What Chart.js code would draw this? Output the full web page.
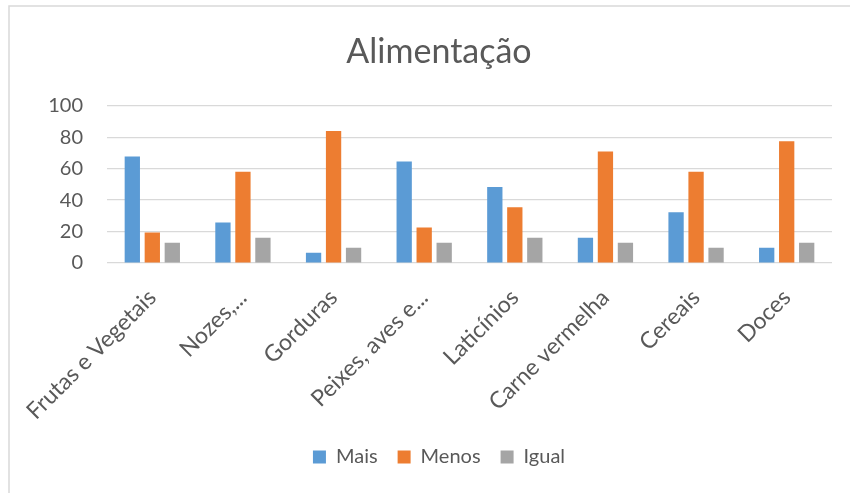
<!DOCTYPE html>
<html>
<head>
<meta charset="utf-8">
<script src="https://cdn.jsdelivr.net/npm/chart.js@4"></script>
<style>
  html, body { margin: 0; padding: 0; background: #fff; }
  #wrap { position: relative; width: 850px; height: 493px; }
</style>
</head>
<body>
<div id="wrap"><canvas id="c" width="850" height="493"></canvas></div>
<script>
const title = "Alimentação";
const categories = ["Frutas e Vegetais", "Nozes,...", "Gorduras", "Peixes, aves e...", "Laticínios", "Carne vermelha", "Cereais", "Doces"];
const seriesNames = ["Mais", "Menos", "Igual"];
const mais  = [67.7, 25.8, 6.5, 64.5, 48.4, 16.1, 32.3, 9.7];
const menos = [19.4, 58.1, 83.9, 22.6, 35.5, 71.0, 58.1, 77.4];
const igual = [12.9, 16.1, 9.7, 12.9, 16.1, 12.9, 9.7, 12.9];
const yTicks = [0, 20, 40, 60, 80, 100];
const colors = ["#5B9BD5", "#ED7D31", "#A5A5A5"];

const FONT = "Lato, 'Liberation Sans', sans-serif";
const TXT = "#595959";

const frame = {
  id: 'frame',
  beforeDraw(chart) {
    const ctx = chart.ctx;
    ctx.save();
    ctx.fillStyle = '#fff';
    ctx.fillRect(0, 0, chart.width, chart.height);
    ctx.strokeStyle = '#D9D9D9';
    ctx.lineWidth = 1.5;
    ctx.beginPath();
    ctx.moveTo(9, chart.height);
    ctx.lineTo(9, 6);
    ctx.lineTo(chart.width, 6);
    ctx.stroke();
    ctx.restore();
  }
};

new Chart(document.getElementById('c'), {
  type: 'bar',
  data: {
    labels: categories,
    datasets: [mais, menos, igual].map((d, i) => ({
      label: seriesNames[i],
      data: d,
      backgroundColor: colors[i],
      borderWidth: 0,
      categoryPercentage: 0.662,
      barPercentage: 0.765
    }))
  },
  options: {
    responsive: false,
    animation: false,
    devicePixelRatio: 1,
    layout: { padding: { left: 46, right: 18, top: 0, bottom: 16 } },
    plugins: {
      title: {
        display: true,
        text: title,
        color: TXT,
        font: { family: FONT, size: 34, weight: 'normal' },
        padding: { top: 32, bottom: 33 }
      },
      legend: {
        position: 'bottom',
        labels: {
          color: TXT,
          font: { family: FONT, size: 20 },
          boxWidth: 13,
          boxHeight: 13,
          padding: 20
        }
      },
      tooltip: { enabled: false }
    },
    scales: {
      x: {
        grid: { display: false, drawTicks: false },
        border: { display: false },
        afterFit(scale) { scale.paddingLeft = 0; scale.paddingRight = 0; scale.height -= 19; },
        ticks: {
          color: TXT,
          font: { family: FONT, size: 23 },
          maxRotation: 45,
          minRotation: 45,
          autoSkip: false,
          padding: 21
        }
      },
      y: {
        min: 0,
        max: 100,
        afterBuildTicks(scale) { scale.ticks = yTicks.map(v => ({ value: v })); },
        afterFit(scale) { scale.width = 61; },
        grid: { color: '#D9D9D9', lineWidth: 1.3, drawTicks: false },
        border: { display: false },
        ticks: {
          color: TXT,
          font: { family: FONT, size: 20 },
          padding: 24
        }
      }
    }
  },
  plugins: [frame]
});
</script>
</body>
</html>
